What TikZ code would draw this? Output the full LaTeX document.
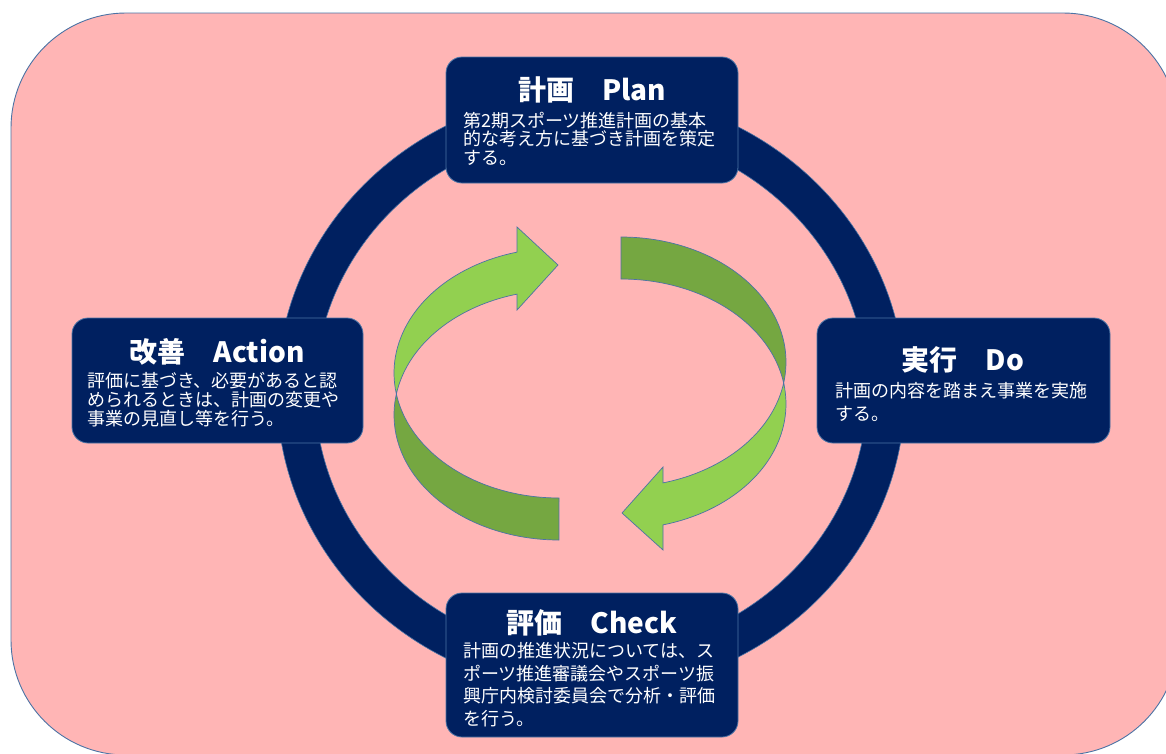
\documentclass[tikz,border=0pt]{standalone}
\usepackage{fontspec}
\setmainfont{Noto Sans CJK JP}
\definecolor{bgpink}{RGB}{255,181,181}
\definecolor{navy}{RGB}{0,32,96}
\definecolor{edgeblue}{RGB}{75,115,165}
\definecolor{lgreen}{RGB}{146,208,80}
\definecolor{dgreen}{RGB}{117,167,65}
\tikzset{
  panel/.style={draw=edgeblue, line width=0.8pt, fill=navy, rounded corners=16pt, inner sep=0pt},
  ttl/.style={text=white, inner sep=0pt, font=\fontsize{28}{30}\selectfont\bfseries},
  bodytxt/.style={text=white, inner sep=0pt, align=left, anchor=north west},
  greenlight/.style={fill=lgreen, draw=edgeblue, line width=0.7pt},
  greendark/.style={fill=dgreen, draw=edgeblue, line width=0.7pt}
}
\begin{document}
\begin{tikzpicture}[x=1pt,y=-1pt]
\useasboundingbox (0,0) rectangle (1166,753);
\begin{scope}
\clip (0,0) rectangle (1166,753);
\draw[draw=edgeblue, line width=0.9pt, fill=bgpink, rounded corners=115pt] (11,13) rectangle (1178,755);
\end{scope}
% ring
\path[draw=edgeblue, line width=0.6pt, fill=navy, even odd rule]
  (591,392) ellipse [x radius=314pt, y radius=300pt]
  (591,392) ellipse [x radius=276pt, y radius=262pt];
% green arrows, left
\path[greenlight] plot[domain=170.33:255.25, samples=40] ({559+165*cos(\x)},{373+125*sin(\x)})
  -- (517,227) -- (558,265) -- (517,310)
  -- plot[domain=0:1, samples=40] ({559+165*cos(255.25-65.58*\x)},{415+125*sin(255.25-65.58*\x)}) -- cycle;
\path[greendark] plot[domain=0:1, samples=50] ({559+165*cos(189.67-99.67*\x)},{415+125*sin(189.67-99.67*\x)})
  -- plot[domain=90:170.33, samples=50] ({559+165*cos(\x)},{373+125*sin(\x)}) -- cycle;
% green arrows, right
\path[greendark] plot[domain=-90:9.67, samples=50] ({621+165*cos(\x)},{362+125*sin(\x)})
  -- plot[domain=0:1, samples=50] ({621+165*cos(-9.67-80.33*\x)},{404+125*sin(-9.67-80.33*\x)}) -- cycle;
\path[greenlight] plot[domain=-9.67:75.25, samples=40] ({621+165*cos(\x)},{404+125*sin(\x)})
  -- (663,550) -- (622,513) -- (663,467)
  -- plot[domain=0:1, samples=40] ({621+165*cos(75.25-65.58*\x)},{362+125*sin(75.25-65.58*\x)}) -- cycle;
% boxes
\node[panel, minimum width=292pt, minimum height=126pt] (plan) at (592,120) {};
\node[panel, minimum width=291pt, minimum height=125pt] (action) at (217.5,380.5) {};
\node[panel, minimum width=293pt, minimum height=125pt] (do) at (963.5,380.5) {};
\node[panel, minimum width=292pt, minimum height=144pt] (check) at (592,665) {};
% titles
\node[ttl] (planT) at (592,90) {計画　Plan};
\node[ttl] (actionT) at (217,352) {改善　Action};
\node[ttl] (doT) at (963,360) {実行　Do};
\node[ttl] (checkT) at (592,623) {評価　Check};
% bodies
\node[bodytxt, font=\fontsize{18}{18.5}\selectfont] (planB) at (463,112)
  {第2期スポーツ推進計画の基本\\的な考え方に基づき計画を策定\\する。};
\node[bodytxt, font=\fontsize{18}{19.2}\selectfont] (actionB) at (87,372)
  {評価に基づき、必要があると認\\められるときは、計画の変更や\\事業の見直し等を行う。};
\node[bodytxt, font=\fontsize{18}{23}\selectfont] (doB) at (835,382)
  {計画の内容を踏まえ事業を実施\\する。};
\node[bodytxt, font=\fontsize{18}{22.8}\selectfont] (checkB) at (463,642)
  {計画の推進状況については、ス\\ポーツ推進審議会やスポーツ振\\興庁内検討委員会で分析・評価\\を行う。};
\end{tikzpicture}
\end{document}
